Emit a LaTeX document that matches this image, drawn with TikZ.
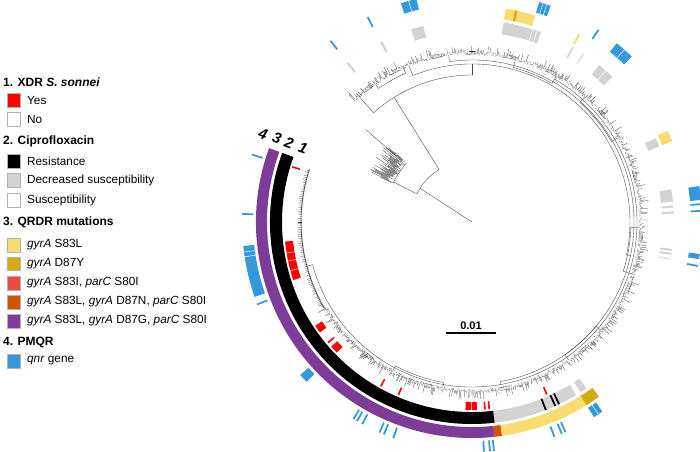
\documentclass[tikz,border=0pt]{standalone}
\usepackage{fontspec}
\setmainfont{Liberation Sans}
\usetikzlibrary{positioning}

\definecolor{xdrred}{HTML}{FF0000}
\definecolor{dsgray}{HTML}{D3D3D3}
\definecolor{qyellow}{HTML}{F7DC6F}
\definecolor{qgold}{HTML}{D4AC0D}
\definecolor{qtomato}{HTML}{E74C3C}
\definecolor{qorange}{HTML}{D35400}
\definecolor{qpurple}{HTML}{7D3C98}
\definecolor{qnrblue}{HTML}{3498DB}

% one annular segment: inner r, outer r, start, end, colour
\newcommand{\ringseg}[5]{\fill[#5] (#3:#1) arc[start angle=#3, end angle=#4, radius=#1] -- (#4:#2) arc[start angle=#4, end angle=#3, radius=#2] -- cycle;}
\newcommand{\xdrseg}[2]{\ringseg{180}{188}{#1}{#2}{xdrred}}
\newcommand{\ciproseg}[3]{\ringseg{190}{202}{#1}{#2}{#3}}
\newcommand{\qrdrseg}[3]{\ringseg{205}{216}{#1}{#2}{#3}}
\newcommand{\qnrseg}[2]{\ringseg{219}{230}{#1}{#2}{qnrblue}}
\newcommand{\ringgap}[3]{\draw[white, line width=0.5pt] (#1:#2) -- (#1:#3);}

\begin{document}
\begin{tikzpicture}[
    x=1pt, y=1pt,
    branch/.style={draw=black!75, line width=0.35pt},
    tipline/.style={draw=black!85, line width=0.25pt},
    head/.style={anchor=west, inner sep=0pt, font=\fontsize{12}{14}\selectfont\bfseries},
    legbox/.style={draw=black!30, line width=0.4pt, minimum width=13.5pt, minimum height=13.5pt, inner sep=0pt},
    legtext/.style={anchor=west, inner sep=0pt, font=\fontsize{11.8}{14}\selectfont},
    ringnum/.style={inner sep=0pt, rotate=-20, font=\fontsize{15}{15}\selectfont\bfseries\itshape},
    scalelab/.style={inner sep=0pt, font=\fontsize{11}{12}\selectfont\bfseries}
]
\useasboundingbox (0,0) rectangle (700,-451);
\pgfmathsetseed{42}

% Tree and rings, screen angles round the root
\begin{scope}[shift={(472,-222)}, yscale=-1]
  % root and inner clade
  \draw[branch] (0:0) -- (213:62);
  \draw[branch] (207:62) arc[start angle=207, end angle=238, radius=62];
  \draw[branch] (207:62) -- (207:88);
  \draw[branch] (206:88) arc[start angle=206, end angle=222, radius=88];
  \foreach \a in {206,206.4,...,222}{
    \pgfmathsetmacro\tipin{88+8*rnd}
    \pgfmathsetmacro\tipout{\tipin+6+18*rnd}
    \draw[tipline] (\a:\tipin) -- (\a:\tipout);
  }
  \draw[branch] (221:100) -- (221:141);

  % backbone of the main clade
  \draw[branch] (238:62) -- (238:147);
  \draw[branch] (228:147) arc[start angle=228, end angle=270, radius=147];
  \draw[branch] (228:147) -- (228:167);
  \draw[branch] (270:147) -- (270:158);
  \draw[branch] (248:158) arc[start angle=248, end angle=372, radius=158];
  \draw[branch] (248:158) -- (248:167);
  \draw[branch] (372:158) -- (372:162);
  \draw[branch] (262:162) arc[start angle=262, end angle=440, radius=162];
  \draw[branch] (262:162) -- (262:167);
  \draw[branch] (440:162) -- (440:165);
  \draw[branch] (300:165) arc[start angle=300, end angle=525, radius=165];
  \draw[branch] (525:165) -- (525:171);

  % small sub-clades
  \foreach \a/\b/\r in {2/18/159, 40/55/162, 100/118/163, 285/300/160, 312/330/161, 235/246/163}{
    \draw[branch] (\a:\r) arc[start angle=\a, end angle=\b, radius=\r] -- (\b:168);
    \draw[branch] (\a:\r) -- (\a:168);
  }

  % tips
  \foreach \a in {226,226.35,...,510}{
    \pgfmathsetmacro\tipin{167+3*rnd}
    \pgfmathsetmacro\tipout{\tipin+1+8*rnd^3}
    \draw[tipline] (\a:\tipin) -- (\a:\tipout);
  }
  \foreach \a in {230,241,256,268,281,296,318,342,3,21,47,77,103,126}{
    \draw[tipline] (\a:168) arc[start angle=\a, end angle=\a+4, radius=168] -- ++(0,0);
    \draw[tipline] (\a+1:171) arc[start angle=\a+1, end angle=\a+3, radius=171];
  }
  % XDR clade
  \draw[branch, line width=0.6pt] (150:171) arc[start angle=150, end angle=198, radius=171];
  \foreach \a in {150,150.6,...,198}{
    \pgfmathsetmacro\tipout{171+1+3*rnd}
    \draw[tipline] (\a:170) -- (\a:\tipout);
  }

  % 1. XDR
  \foreach \a/\b in {196.8/197.3, 139.8/140.3, 118.8/119.3, 112.8/113.3, 85.8/86.3, 84.5/85, 66.3/66.8,
                     162/174, 144/146.5, 136/138.5, 88.5/92}{\xdrseg{\a}{\b}}
  \foreach \a in {165,168,170.5,90.2}{\ringgap{\a}{179}{189}}

  % 2. Ciprofloxacin
  \ciproseg{84}{200}{black}
  \foreach \a/\b in {59/84, 55.5/57.5, 279/290, 299.8/300.3, 309/314, 335.5/338, 350.7/354.2,
                     355.3/355.9, 357/357.6, 7.7/8.3, 8.8/9.4, 252.5/256, 243/243.6, 231.7/232.3}{\ciproseg{\a}{\b}{dsgray}}
  \foreach \a/\b in {303.3/303.8, 10.3/10.8}{\ciproseg{\a}{\b}{black!10}}
  \foreach \a/\b in {68.3/68.8, 65.4/65.9, 64.2/64.7, 83.6/84.4}{\ciproseg{\a}{\b}{black}}
  \foreach \a in {287.5,288.8,311.5}{\ringgap{\a}{189}{203}}

  % 3. QRDR mutations
  \qrdrseg{84}{200}{qpurple}
  \qrdrseg{82}{84}{qorange}
  \qrdrseg{58}{82}{qyellow}
  \qrdrseg{54}{58}{qgold}
  \qrdrseg{279}{287}{qyellow}
  \qrdrseg{281.5}{282.1}{qgold}
  \qrdrseg{299.5}{300}{qyellow}
  \qrdrseg{335}{338}{qyellow}

  % 4. PMQR
  \foreach \a/\b in {161/174, 136/138.3, 55.5/58, 287/290, 309/314, 351/354.5, 8/9.3, 252/256}{\qnrseg{\a}{\b}}
  \foreach \a in {196.8, 181.8, 158.8, 120.8, 119.8, 118.3, 113.5, 112.3, 109.8, 86.8, 85.3, 84.3,
                  68.8, 66.8, 65.8, 303.1, 355.3, 357, 10.8, 242.8, 231.8}{\qnrseg{\a}{\a+0.45}}
  \foreach \a in {171.3,172.5,56.7,288,289,311.5,254}{\ringgap{\a}{218}{231}}
\end{scope}

% Ring numbers
\node[ringnum] (n4) at (263,-134) {4};
\node[ringnum] (n3) at (277,-138) {3};
\node[ringnum] (n2) at (289,-143) {2};
\node[ringnum] (n1) at (303,-148) {1};

% Scale bar
\coordinate (sbl) at (446,-333);
\coordinate (sbr) at (496,-333);
\draw[line width=1.2pt] (sbl) -- (sbr);
\node[scalelab] (sbt) at (471,-326) {0.01};

% Legend
\node[head] (h1) at (3,-82) {1. XDR \textit{S. sonnei}};
\node[legbox, fill=xdrred] (b11) at (13.5,-100) {};
\node[legtext, right=6.5pt of b11] (t11) {Yes};
\node[legbox, fill=white] (b12) at (13.5,-119) {};
\node[legtext, right=6.5pt of b12] (t12) {No};

\node[head] (h2) at (3,-141) {2. Ciprofloxacin};
\node[legbox, fill=black] (b21) at (13.5,-161) {};
\node[legtext, right=6.5pt of b21] (t21) {Resistance};
\node[legbox, fill=dsgray] (b22) at (13.5,-180) {};
\node[legtext, right=6.5pt of b22] (t22) {Decreased susceptibility};
\node[legbox, fill=white] (b23) at (13.5,-200) {};
\node[legtext, right=6.5pt of b23] (t23) {Susceptibility};

\node[head] (h3) at (3,-222) {3. QRDR mutations};
\node[legbox, fill=qyellow] (b31) at (13.5,-245) {};
\node[legtext, right=6.5pt of b31] (t31) {\textit{gyrA} S83L};
\node[legbox, fill=qgold] (b32) at (13.5,-263.5) {};
\node[legtext, right=6.5pt of b32] (t32) {\textit{gyrA} D87Y};
\node[legbox, fill=qtomato] (b33) at (13.5,-283) {};
\node[legtext, right=6.5pt of b33] (t33) {\textit{gyrA} S83I, \textit{parC} S80I};
\node[legbox, fill=qorange] (b34) at (13.5,-302) {};
\node[legtext, right=6.5pt of b34] (t34) {\textit{gyrA} S83L, \textit{gyrA} D87N, \textit{parC} S80I};
\node[legbox, fill=qpurple] (b35) at (13.5,-321) {};
\node[legtext, right=6.5pt of b35] (t35) {\textit{gyrA} S83L, \textit{gyrA} D87G, \textit{parC} S80I};

\node[head] (h4) at (3,-342) {4. PMQR};
\node[legbox, fill=qnrblue] (b41) at (13.5,-361) {};
\node[legtext, right=6.5pt of b41] (t41) {\textit{qnr} gene};

\end{tikzpicture}
\end{document}
